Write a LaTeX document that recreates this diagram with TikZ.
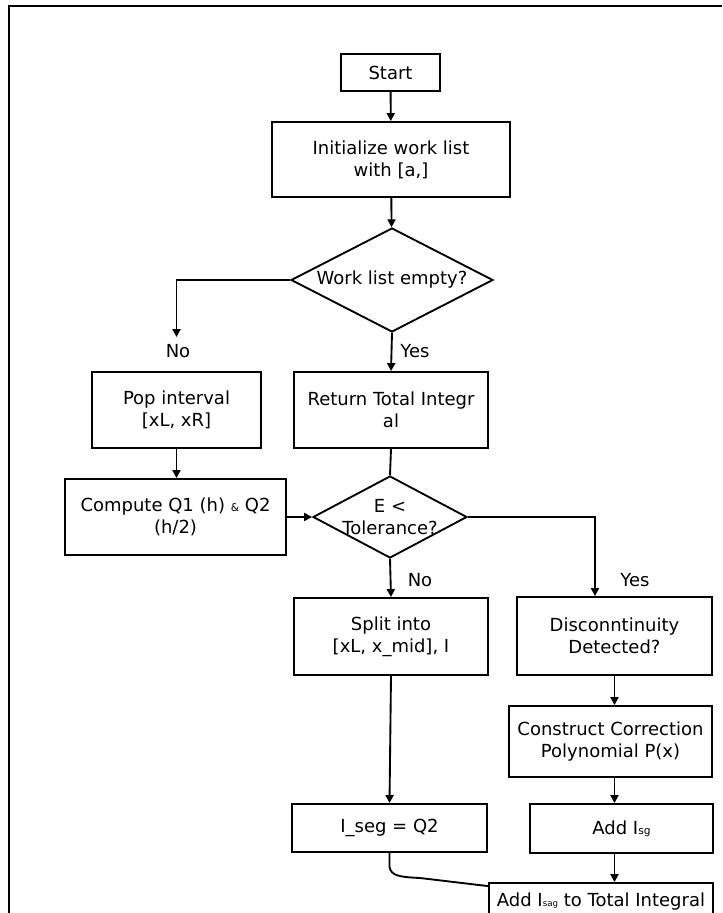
\documentclass[tikz,border=0pt]{standalone}
\usepackage{fontspec}
\setmainfont{DejaVu Sans}
\usetikzlibrary{shapes.geometric,arrows.meta}

\tikzset{
  proc/.style={draw, line width=1.4pt, align=center, inner sep=1pt},
  decision/.style={draw, diamond, line width=1.4pt, inner sep=0pt},
  flow/.style={line width=1.4pt, -{Triangle[length=6pt,width=6pt]}},
  link/.style={line width=1.4pt},
  tag/.style={inner sep=0pt, align=center},
}
\newcommand{\smalltxt}[1]{{\fontsize{8}{8}\selectfont #1}}

\begin{document}
\begin{tikzpicture}[x=0.75pt,y=-0.75pt,font=\fontsize{13.5}{16.5}\selectfont]
\useasboundingbox (0,0) rectangle (722,913);
\clip (0,0) rectangle (722,913);
\draw[line width=1pt] (9,913) -- (9,6) -- (722,6);

\node[proc, minimum width=74.25pt, minimum height=27.75pt] (start) at (390.5,72.5) {Start};
\node[proc, minimum width=178.5pt, minimum height=56.25pt] (init) at (391,159.5) {Initialize work list\\ with [a,]};
\node[decision, minimum width=151.5pt, minimum height=78pt] (empty) at (392,280) {};
\node[tag] (empty-text) at (empty.center) {Work list empty?};

\node[proc, minimum width=126.75pt, minimum height=57pt] (pop) at (176.5,410) {Pop interval\\ {[xL, xR]}};
\node[proc, minimum width=145.5pt, minimum height=57pt] (ret) at (391,410) {Return Total Integr\\ al};
\node[proc, minimum width=165.75pt, minimum height=57pt] (comp) at (175.5,517) {Compute Q1 (h) \smalltxt{\&} Q2\\ (h/2)};
\node[decision, minimum width=115.5pt, minimum height=61.5pt] (tol) at (390,517) {};
\node[tag] (tol-text) at (tol.center) {E <\\ Tolerance?};

\node[proc, minimum width=145.5pt, minimum height=57.75pt] (split) at (391,636.5) {Split into\\ {[xL, x\_mid], I}};
\node[proc, minimum width=146.25pt, minimum height=58.5pt] (disc) at (614.5,636) {Disconntinuity\\ Detected?};
\node[proc, minimum width=152.25pt, minimum height=53.25pt] (cons) at (610.5,741.5) {Construct Correction\\ Polynomial P(x)};
\node[proc, minimum width=146.25pt, minimum height=36pt] (iseg) at (389.5,828) {I\_seg = Q2};
\node[proc, minimum width=137.25pt, minimum height=36.75pt] (addl) at (621.5,828.5) {Add I\smalltxt{sg}};
\node[proc, minimum width=168pt, minimum height=34.5pt] (final) at (601,906) {};
\node[tag] (final-text) at (601,902) {Add I{\fontsize{6.5}{6.5}\selectfont sag} to Total Integral};

\node[tag] (no1) at (178,351) {No};
\node[tag] (yes1) at (415,351) {Yes};
\node[tag] (no2) at (420,580) {No};
\node[tag] (yes2) at (635,580) {Yes};

\coordinate (noend) at (176.5,337);
\coordinate (yescol) at (595,560);

\draw[flow] (start) -- (init);
\draw[flow] (init) -- (empty);
\draw[flow] (empty.west) -| (noend);
\draw[flow] (empty.south) -- (ret.north);
\draw[link] (ret.south) -- (tol.north);
\draw[flow] (pop.south) -- (pop.south |- comp.north);
\draw[flow] (comp.east) -- (tol.west);
\draw[flow] (tol.south) -- (split.north);
\draw[flow] (tol.east) -| (yescol |- disc.north);
\draw[flow] (split.south) -- (iseg.north);
\draw[flow] (disc.south) -- (disc.south |- cons.north);
\draw[flow] (disc.south |- cons.south) -- (disc.south |- addl.north);
\draw[flow] (disc.south |- addl.south) -- (disc.south |- final.north);
\draw[link] (iseg.south) -- ++(0,14) .. controls (391,876) and (400,877) .. (420,878) -- (final.170);
\end{tikzpicture}
\end{document}
